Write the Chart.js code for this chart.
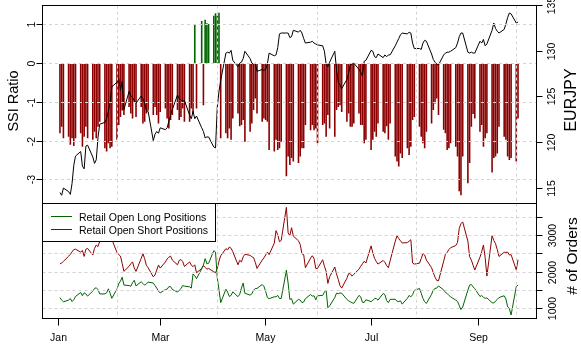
<!DOCTYPE html>
<html>
<head>
<meta charset="utf-8">
<script src="https://cdn.jsdelivr.net/npm/chart.js@4.4.1/dist/chart.umd.min.js"></script>
<style>
  html, body { margin: 0; padding: 0; background: #fff; }
  #wrap { position: relative; width: 581px; height: 355px; overflow: hidden; background: #fff; }
  #wrap canvas { position: absolute; left: 0; }
  #cTop { top: 0; }
  #cBot { top: 200px; }
</style>
</head>
<body>
<div id="wrap">
  <canvas id="cTop" width="581" height="206"></canvas>
  <canvas id="cBot" width="581" height="155"></canvas>
</div>
<script>
// ---- data (day-of-year 2013, Jan 1 = 0; weekdays only) ----
const days = [
  1,2,3,
  6,7,8,9,10, 13,14,15,16,17, 20,21,22,23,24, 27,28,29,30,31,
  34,35,36,37,38, 41,42,43,44,45, 48,49,50,51,52, 55,56,57,58,59,
  62,63,64,65,66, 69,70,71,72,73, 76,77,78,79,80, 83,84,85,86,87,
  90,91,92,93,94, 97,98,99,100,101, 104,105,106,107,108, 111,112,113,114,115,
  118,119,120,121,122, 125,126,127,128,129, 132,133,134,135,136, 139,140,141,142,143,
  146,147,148,149,150, 153,154,155,156,157, 160,161,162,163,164, 167,168,169,170,171,
  174,175,176,177,178, 181,182,183,184,185, 188,189,190,191,192, 195,196,197,198,199,
  202,203,204,205,206, 209,210,211,212,213, 216,217,218,219,220, 223,224,225,226,227,
  230,231,232,233,234, 237,238,239,240,241, 244,245,246,247,248, 251,252,253,254,255,
  258,259,260,261,262, 265,266
];

const ssiRatio = [
  -1.80,-1.63,-1.93,
  -1.89,-2.10,-1.93,-2.13,-1.93, -1.80,-2.15,-1.89,-1.63,-1.93, -1.97,-1.76,-1.93,-1.63,-1.50, -2.19,-2.27,-2.06,-2.19,-2.15,
  -1.97,-1.59,-1.38,-1.21,-1.33, -1.12,-1.29,-1.42,-1.00,-1.38, -1.12,-1.55,-1.50,-1.29,-1.21, -1.33,-1.12,-1.33,-1.55,-1.25,
  -1.16,-1.42,-1.68,-1.46,-1.33, -1.20,-1.46,-1.38,-1.16,-1.50, -1.50,-1.16,-1.30,1.02,-1.16, 1.10,-1.08,1.13,1.04,1.02,
  1.23,1.30,1.23,1.31,-1.93, -1.80,-1.93,-1.68,-1.97,-1.42, -1.29,-1.62,-1.59,-1.46,-2.02, -1.76,-1.55,-1.20,-0.90,-1.29,
  -1.50,-1.42,-1.46,-1.50,-2.23, -2.27,-1.97,-2.23,-2.19,-2.02, -2.91,-2.40,-2.62,-2.44,-2.53, -2.57,-2.40,-2.19,-2.19,-1.59,
  -1.72,-1.59,-1.72,-1.68,-2.06, -1.59,-1.55,-1.89,-1.33,-1.68, -1.89,-1.20,-1.12,-1.08,-1.25, -1.50,-1.29,-1.63,-1.63,-1.55,
  -1.29,-1.59,-1.59,-2.06,-1.97, -2.23,-1.97,-1.76,-1.89,-1.55, -1.76,-1.80,-1.62,-1.97,-1.55, -2.40,-2.53,-2.66,-2.32,-2.44,
  -2.19,-2.36,-2.15,-1.46,-1.38, -1.63,-1.89,-2.06,-2.19,-1.76, -1.55,-1.20,-1.03,-0.90,-1.33, -1.71,-1.80,-2.23,-2.19,-2.06,
  -2.15,-2.40,-3.30,-3.40,-2.40, -3.09,-2.57,-1.63,-1.30,-1.42, -1.76,-1.59,-2.15,-1.93,-1.80, -2.81,-2.44,-2.40,-2.32,-1.63,
  -1.89,-1.97,-2.40,-2.49,-2.44, -2.53,-1.42
];

const eurjpy = [
  114.5,114.2,115.0,
  114.6,114.3,115.5,117.5,118.5, 119.0,117.4,117.1,119.6,119.7, 118.4,117.7,118.1,120.5,122.0, 122.2,122.6,123.4,124.4,126.1,
  126.6,127.0,125.7,126.7,123.6, 125.6,125.1,124.9,124.6,124.3, 125.1,124.8,124.3,123.5,123.4, 120.2,120.9,121.2,121.0,121.6,
  121.4,121.6,122.3,123.0,123.6, 125.2,124.8,124.7,124.5,124.6, 123.0,122.6,123.4,122.6,122.9, 121.6,121.2,120.5,120.6,120.6,
  119.5,119.4,123.8,125.6,126.8, 129.8,129.9,129.8,130.1,129.0, 128.3,128.7,128.8,129.2,130.0, 129.2,128.7,128.6,128.7,127.8,
  128.0,127.9,128.0,128.6,129.8, 129.5,129.6,130.4,131.9,132.0, 132.0,132.0,131.5,131.6,132.3, 132.1,132.3,132.0,131.4,130.9,
  131.0,131.1,130.9,130.8,130.7, 130.6,130.0,128.6,128.3,128.8, 130.0,128.0,126.6,126.3,125.9, 126.9,127.6,128.5,128.6,128.7,
  128.0,127.7,127.3,128.9,129.0, 130.1,130.0,129.4,129.3,129.7, 129.3,129.6,129.4,129.6,129.6, 130.6,131.0,131.4,131.8,132.0,
  131.9,132.1,132.0,130.9,130.3, 130.3,130.2,130.9,131.2,131.1, 129.7,129.1,128.8,128.6,128.5, 129.6,129.8,129.9,129.9,130.0,
  130.4,130.9,131.6,132.0,132.0, 129.9,129.8,129.9,129.8,129.8, 131.1,130.9,131.3,130.6,130.8, 132.3,133.1,132.5,132.2,132.0,
  132.4,133.0,133.7,134.2,134.1, 133.1,133.2
];

const longOrders = [
  1300,1230,1184,
  1230,1275,1190,1240,1330, 1440,1350,1430,1400,1340, 1480,1550,1570,1520,1400, 1400,1430,1540,1420,1280,
  1530,1680,1750,1860,1643, 1630,1610,1710,1775,1620, 1734,1688,1640,1675,1725, 1700,1630,1560,1470,1430,
  1520,1530,1600,1600,1525, 1450,1500,1545,1630,1615, 1595,1560,1950,1900,1820, 2090,2190,2370,2230,2240,
  2590,2550,1850,1510,1160, 1530,1450,1330,1360,1459, 1325,1390,1560,1700,1420, 1367,1400,1500,1551,1551,
  1660,1610,1470,1300,1270, 1321,1321,1360,1275,1275, 2050,1700,1250,1270,1120, 1250,1230,1160,1180,1270,
  1385,1340,1350,1240,1350, 1360,1450,1500,1020,1070, 1300,1420,1410,1425,1420, 1250,1210,1184,1160,1140,
  1360,1320,1170,1165,1240, 1190,1225,1270,1275,1230, 1413,1380,1215,1160,1250, 1255,1200,1190,1210,1120,
  1280,1360,1320,1380,1495, 1550,1420,1275,1184,1138, 1390,1510,1551,1560,1620, 1510,1440,1413,1360,1321,
  1230,1195,1080,970,1040, 1505,1643,1660,1595,1545, 1330,1355,1310,1280,1290, 1160,1150,1205,1250,1300,
  1350,1260,1046,1000,820, 1600,1643
];

const shortOrders = [
  2225,2250,2295,
  2435,2490,2555,2620,2630, 2550,2595,2430,2630,2650, 2469,2652,2744,2700,2840, 2950,3050,2980,3080,2900,
  2540,2480,2440,2240,2020, 2160,2230,2280,2110,2020, 2377,2505,2370,2185,2120, 1870,1920,2056,2193,2110,
  2280,2360,2410,2440,2330, 2200,2320,2345,2290,2155, 2280,2190,2150,2200,1980, 2100,2180,2130,2080,2100,
  2010,1980,2100,2300,2450, 2645,2610,2690,2655,2561, 2200,2325,2280,2420,2490, 2460,2420,2400,2270,2100,
  2330,2390,2470,2550,2480, 2795,3140,3025,2836,2870, 3780,3080,3000,3220,2990, 2860,2760,2500,2480,2120,
  2385,2450,2370,2100,2100, 2340,2160,2020,1690,1870, 2140,1950,1800,1630,1560, 1830,1960,1950,1890,1940,
  2080,2160,2225,2300,2250, 2720,2530,2380,2290,2220, 2320,2270,2180,2120,2310, 2850,3000,2920,2860,2800,
  2810,2850,2890,2250,2220, 2245,2370,2515,2469,2330, 2120,1980,1860,1770,1760, 2300,2490,2540,2620,2670,
  2730,2810,3200,3330,3380, 2850,2423,2330,2190,2056, 2410,2560,2745,2400,1890, 3000,2870,2780,2620,2430,
  2545,2540,2550,2470,2480, 2060,2340
];

const seriesNames = ['Retail Open Long Positions', 'Retail Open Short Positions'];
const ssiTicks = [1, 0, -1, -2, -3];
const ssiLabels = ['1', '0', '-1', '-2', '-3'];
const eurTicks = [115, 120, 125, 130, 135];
const eurLabels = ['115', '120', '125', '130', '135'];
const orderTicks = [1000, 1500, 2000, 2500, 3000, 3500];
const orderLabels = ['1000', '', '2000', '', '3000', ''];
const monthTicks = [0, 59, 120, 181, 243];
const monthLabels = ['Jan', 'Mar', 'May', 'Jul', 'Sep'];
const gridDays = [34.5, 92.3, 150.2, 207.5, 265.3];

// ---- styling ----
const FONT = '"Liberation Sans", Arial, Helvetica, sans-serif';
const RED = '#8b0000', GREEN = '#006400', GRID = '#d3d3d3';
const X_MIN = -9.1, X_MAX = 276.7;
const DASH = [3, 3];

const fixedTicks = vals => scale => { scale.ticks = vals.map(v => ({ value: v })); };
const noSize = s => { if (s.isHorizontal()) { s.height = 0; } else { s.width = 0; } };

function gridX() {
  return {
    type: 'linear', position: 'bottom', min: X_MIN, max: X_MAX, offset: false,
    afterBuildTicks: fixedTicks(gridDays), afterFit: noSize,
    ticks: { display: false }, border: { display: false, dash: DASH },
    grid: { color: GRID, lineWidth: 1, drawTicks: false, offset: false, z: 1 }
  };
}

function makePainter(cfg) {
  return {
    id: 'painter' + cfg.name,
    afterDraw(chart) {
      const ctx = chart.ctx, a = chart.chartArea;
      ctx.save();
      if (cfg.legend) {
        const L = cfg.legend;
        ctx.fillStyle = '#fff';
        ctx.fillRect(L.x, L.y, L.w, L.h);
        ctx.strokeStyle = '#000'; ctx.lineWidth = 1;
        ctx.strokeRect(L.x + 0.5, L.y + 0.5, L.w - 1, L.h - 1);
        L.items.forEach((it, k) => {
          const y = L.firstY + k * L.step;
          ctx.strokeStyle = it.color;
          ctx.beginPath(); ctx.moveTo(L.lineX0, y + 0.5); ctx.lineTo(L.lineX1, y + 0.5); ctx.stroke();
          ctx.fillStyle = '#000'; ctx.font = cfg.tickFont;
          ctx.textAlign = 'left'; ctx.textBaseline = 'alphabetic';
          ctx.fillText(it.text, L.textX, y + 4.5);
        });
      }
      ctx.strokeStyle = '#000'; ctx.lineWidth = 1;
      ctx.strokeRect(a.left, a.top, a.right - a.left, a.bottom - a.top);
      cfg.axes.forEach(ax => {
        const s = chart.scales[ax.id];
        ax.values.forEach((v, k) => {
          const p = Math.round(s.getPixelForValue(v) - 0.5) + 0.5;
          ctx.strokeStyle = '#000';
          ctx.beginPath();
          if (ax.side === 'left') { ctx.moveTo(a.left, p); ctx.lineTo(a.left - ax.len, p); }
          else if (ax.side === 'right') { ctx.moveTo(a.right, p); ctx.lineTo(a.right + ax.len, p); }
          else { ctx.moveTo(p, a.bottom); ctx.lineTo(p, a.bottom + ax.len); }
          ctx.stroke();
          const lab = ax.labels[k];
          if (!lab) return;
          ctx.fillStyle = '#000'; ctx.font = cfg.tickFont;
          ctx.textAlign = 'center'; ctx.textBaseline = 'middle';
          if (ax.side === 'bottom') {
            ctx.fillText(lab, p, ax.pos);
          } else {
            ctx.save(); ctx.translate(ax.pos, p); ctx.rotate(-Math.PI / 2);
            ctx.fillText(lab, 0, 0); ctx.restore();
          }
        });
      });
      cfg.titles.forEach(t => {
        ctx.save();
        ctx.fillStyle = '#000'; ctx.font = t.font;
        ctx.textAlign = 'center'; ctx.textBaseline = 'middle';
        ctx.translate(t.x, t.y); ctx.rotate(-Math.PI / 2);
        ctx.fillText(t.text, 0, 0);
        ctx.restore();
      });
      ctx.restore();
    }
  };
}

const TICK_FONT = '10.5px ' + FONT;

// ---- top panel: SSI ratio bars + EURJPY line ----
new Chart(document.getElementById('cTop'), {
  type: 'bar',
  data: {
    datasets: [
      {
        type: 'line', label: 'EURJPY', yAxisID: 'yEur', xAxisID: 'x',
        data: days.map((d, i) => ({ x: d, y: eurjpy[i] })),
        borderColor: '#000', borderWidth: 1, pointRadius: 0, tension: 0, fill: false, order: 1
      },
      {
        type: 'bar', label: 'SSI Ratio', yAxisID: 'ySsi', xAxisID: 'x',
        data: days.map((d, i) => ({ x: d, y: ssiRatio[i] })),
        backgroundColor: ssiRatio.map(v => v >= 0 ? GREEN : RED),
        borderWidth: 0, barThickness: 1.6, inflateAmount: 0, order: 2
      }
    ]
  },
  options: {
    responsive: false, animation: false, devicePixelRatio: 1, events: [],
    layout: { padding: { left: 42.5, right: 44.5, top: 5.5, bottom: 2.5 } },
    plugins: { legend: { display: false }, tooltip: { enabled: false } },
    scales: {
      x: gridX(),
      ySsi: {
        type: 'linear', position: 'left', min: -3.613, max: 1.497,
        afterBuildTicks: fixedTicks(ssiTicks), afterFit: noSize,
        ticks: { display: false }, border: { display: false, dash: DASH },
        grid: { color: GRID, lineWidth: 1, drawTicks: false, z: 1 }
      },
      yEur: {
        type: 'linear', position: 'right', min: 113.30, max: 135.02,
        afterBuildTicks: fixedTicks(eurTicks), afterFit: noSize,
        ticks: { display: false }, border: { display: false }, grid: { display: false }
      }
    }
  },
  plugins: [makePainter({
    name: 'Top', tickFont: TICK_FONT,
    axes: [
      { id: 'ySsi', side: 'left', len: 6, pos: 32, values: ssiTicks, labels: ssiLabels },
      { id: 'yEur', side: 'right', len: 6, pos: 552.5, values: eurTicks, labels: eurLabels }
    ],
    titles: [
      { text: 'SSI Ratio', x: 13.5, y: 101, font: '14.5px ' + FONT },
      { text: 'EURJPY', x: 572, y: 100, font: '16px ' + FONT }
    ]
  })]
});

// ---- bottom panel: retail long / short orders ----
new Chart(document.getElementById('cBot'), {
  type: 'line',
  data: {
    datasets: [
      {
        label: seriesNames[0], yAxisID: 'yOrd', xAxisID: 'x',
        data: days.map((d, i) => ({ x: d, y: longOrders[i] })),
        borderColor: GREEN, borderWidth: 1, pointRadius: 0, tension: 0, fill: false
      },
      {
        label: seriesNames[1], yAxisID: 'yOrd', xAxisID: 'x',
        data: days.map((d, i) => ({ x: d, y: shortOrders[i] })),
        borderColor: RED, borderWidth: 1, pointRadius: 0, tension: 0, fill: false
      }
    ]
  },
  options: {
    responsive: false, animation: false, devicePixelRatio: 1, events: [],
    layout: { padding: { left: 42.5, right: 44.5, top: 3.5, bottom: 36.5 } },
    plugins: { legend: { display: false }, tooltip: { enabled: false } },
    scales: {
      x: gridX(),
      yOrd: {
        type: 'linear', position: 'right', min: 725, max: 3885,
        afterBuildTicks: fixedTicks(orderTicks), afterFit: noSize,
        ticks: { display: false }, border: { display: false, dash: DASH },
        grid: { color: GRID, lineWidth: 1, drawTicks: false, z: 1 }
      }
    }
  },
  plugins: [makePainter({
    name: 'Bot', tickFont: TICK_FONT,
    legend: {
      x: 42, y: 3, w: 174, h: 39, lineX0: 51, lineX1: 72, textX: 79, firstY: 16, step: 13,
      items: [ { text: seriesNames[0], color: GREEN }, { text: seriesNames[1], color: RED } ]
    },
    axes: [
      { id: 'yOrd', side: 'right', len: 6, pos: 553, values: orderTicks, labels: orderLabels },
      { id: 'x', side: 'bottom', len: 7, pos: 138, values: monthTicks, labels: monthLabels }
    ],
    titles: [
      { text: '# of Orders', x: 573, y: 56, font: '15.5px ' + FONT }
    ]
  })]
});
</script>
</body>
</html>
